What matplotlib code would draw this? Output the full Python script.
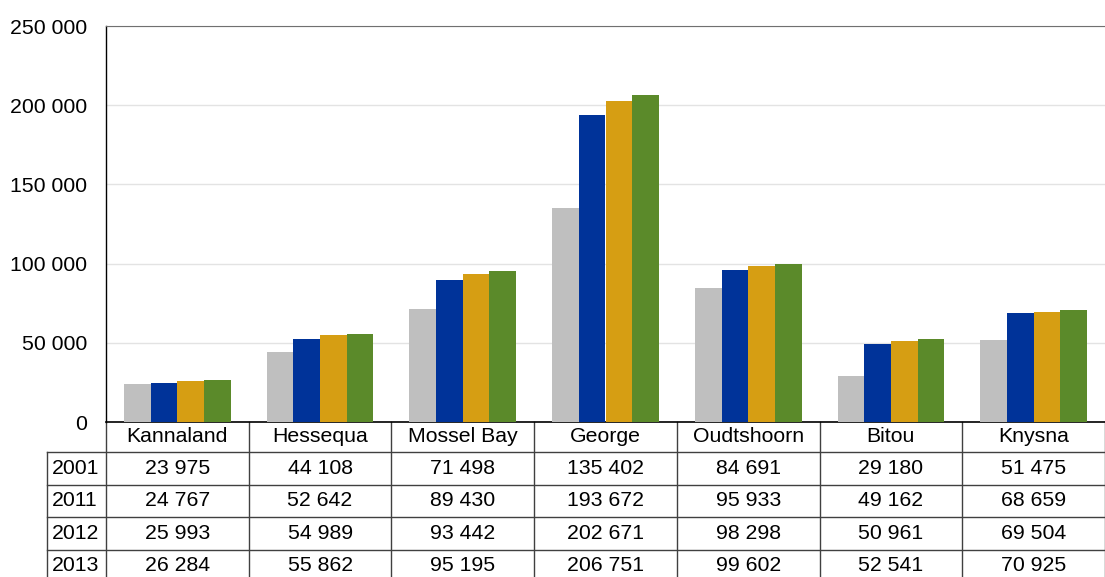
import matplotlib.pyplot as plt
import numpy as np
from matplotlib.ticker import FuncFormatter

plt.rcParams['font.family'] = ['Liberation Sans', 'DejaVu Sans']

# data
towns = ["Kannaland", "Hessequa", "Mossel Bay", "George", "Oudtshoorn", "Bitou", "Knysna"]
years = ["2001", "2011", "2012", "2013"]
pop_2001 = [23975, 44108, 71498, 135402, 84691, 29180, 51475]
pop_2011 = [24767, 52642, 89430, 193672, 95933, 49162, 68659]
pop_2012 = [25993, 54989, 93442, 202671, 98298, 50961, 69504]
pop_2013 = [26284, 55862, 95195, 206751, 99602, 52541, 70925]
series = [pop_2001, pop_2011, pop_2012, pop_2013]
colors = ["#BFBFBF", "#003399", "#D69E13", "#5B8A2A"]

W, H = 1105, 577
fs = 15.3
fig = plt.figure(figsize=(W / 100, H / 100), dpi=100)
ax = fig.add_axes([106 / W, 1 - 422 / H, 1 - 106 / W, (422 - 26) / H])

x = np.arange(len(towns))
bw = 0.187
for i, vals in enumerate(series):
    ax.bar(x + (i - 1.5) * bw, vals, bw, color=colors[i], zorder=3, linewidth=0)

ax.set_xlim(-0.5, len(towns) - 0.5)
ax.set_ylim(0, 250000)
ax.set_yticks(np.arange(0, 250001, 50000))
ax.yaxis.set_major_formatter(FuncFormatter(lambda v, p: f"{int(v):,}".replace(",", " ")))
ax.tick_params(axis='y', length=0, pad=13.7, labelsize=fs)
ax.set_xticks([])
ax.grid(axis='y', color='#E3E3E3', linewidth=1, zorder=0)
ax.spines['right'].set_visible(False)
ax.spines['top'].set_color('#707070')
ax.spines['left'].set_color('black')
ax.spines['bottom'].set_color('black')
ax.spines['left'].set_linewidth(1)
ax.spines['bottom'].set_linewidth(1.2)

# table under the chart
ax_h = 422 - 26
px = 142.7  # px per category


def yf(p):
    # pixels below the x axis -> axes fraction
    return -p / ax_h


trans = ax.get_xaxis_transform()
line_c = '#404040'
row_h = 32.5
head_h = 30
n_rows = len(years)
bottom = head_h + row_h * n_rows
left_col = -0.5 - 59 / px

# vertical lines
for k in range(len(towns) + 1):
    xv = k - 0.5
    ax.plot([xv, xv], [0, yf(bottom)], color=line_c, lw=1, transform=trans, clip_on=False)
ax.plot([left_col, left_col], [yf(head_h), yf(bottom)], color=line_c, lw=1, transform=trans, clip_on=False)
# horizontal lines
for r in range(n_rows + 1):
    yy = yf(head_h + r * row_h)
    ax.plot([left_col, len(towns) - 0.5], [yy, yy], color=line_c, lw=1, transform=trans, clip_on=False)

for k, t in enumerate(towns):
    ax.text(k, yf(head_h / 2), t, ha='center', va='center', fontsize=fs, transform=trans)
for r, yr in enumerate(years):
    yc = yf(head_h + (r + 0.5) * row_h)
    ax.text((left_col - 0.5) / 2 - 0.01, yc, yr, ha='center', va='center', fontsize=fs, transform=trans)
    for k in range(len(towns)):
        ax.text(k, yc, f"{series[r][k]:,}".replace(",", " "), ha='center', va='center',
                fontsize=fs, transform=trans)

fig.savefig("out.png", dpi=100)
